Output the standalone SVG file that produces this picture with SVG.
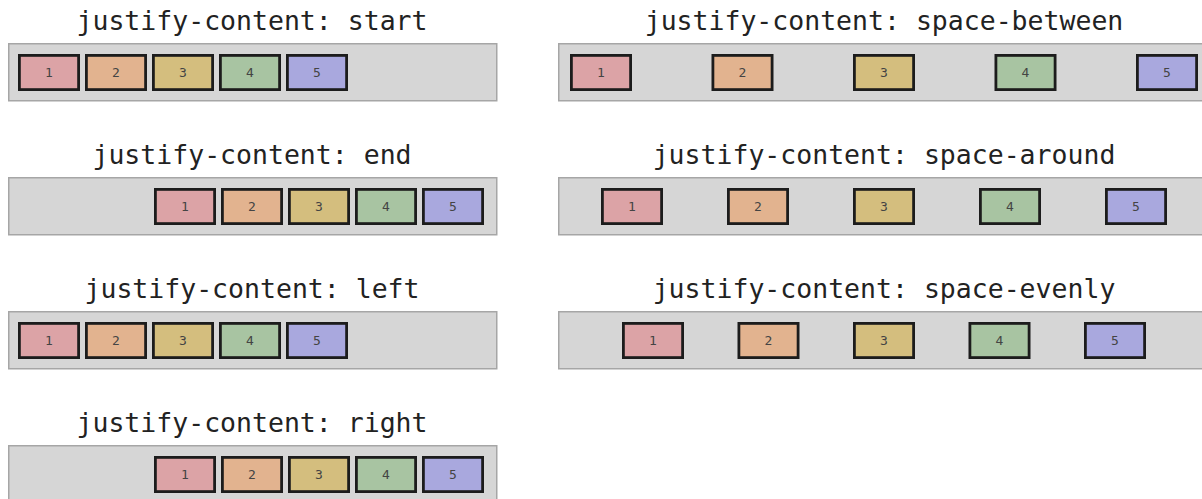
<svg xmlns="http://www.w3.org/2000/svg" width="1202" height="499" viewBox="0 0 1202 499">
<style>
.title{font-family:"DejaVu Sans Mono","Liberation Mono",monospace;font-size:26.5px;fill:#222;text-anchor:middle}
.cont{fill:#d6d6d6;stroke:#a6a6a6;stroke-width:1.5}
.box{stroke:#1c1c1c;stroke-width:2.8}
.num{font-family:"DejaVu Sans Mono","Liberation Mono",monospace;font-size:13px;fill:#444;text-anchor:middle}
.c1{fill:#dca3a6}.c2{fill:#e2b38f}.c3{fill:#d4be7e}.c4{fill:#a8c4a2}.c5{fill:#a9a8de}
</style>
<defs>
<g id="b1"><rect class="box c1" x="1.4" y="1.4" width="59.2" height="34.2"/><text class="num" x="31" y="23">1</text></g>
<g id="b2"><rect class="box c2" x="1.4" y="1.4" width="59.2" height="34.2"/><text class="num" x="31" y="23">2</text></g>
<g id="b3"><rect class="box c3" x="1.4" y="1.4" width="59.2" height="34.2"/><text class="num" x="31" y="23">3</text></g>
<g id="b4"><rect class="box c4" x="1.4" y="1.4" width="59.2" height="34.2"/><text class="num" x="31" y="23">4</text></g>
<g id="b5"><rect class="box c5" x="1.4" y="1.4" width="59.2" height="34.2"/><text class="num" x="31" y="23">5</text></g>
</defs>
<rect width="1202" height="499" fill="#fff"/>
<g id="connectors"/>

<g id="start">
<text class="title" x="252" y="29.5">justify-content: start</text>
<rect class="cont" x="8.75" y="43.75" width="488" height="57"/>
<g id="start-1"><use href="#b1" x="18" y="54"/></g>
<g id="start-2"><use href="#b2" x="85" y="54"/></g>
<g id="start-3"><use href="#b3" x="152" y="54"/></g>
<g id="start-4"><use href="#b4" x="219" y="54"/></g>
<g id="start-5"><use href="#b5" x="286" y="54"/></g>
</g>

<g id="end">
<text class="title" x="252" y="163.5">justify-content: end</text>
<rect class="cont" x="8.75" y="177.75" width="488" height="57"/>
<g id="end-1"><use href="#b1" x="154" y="188"/></g>
<g id="end-2"><use href="#b2" x="221" y="188"/></g>
<g id="end-3"><use href="#b3" x="288" y="188"/></g>
<g id="end-4"><use href="#b4" x="355" y="188"/></g>
<g id="end-5"><use href="#b5" x="422" y="188"/></g>
</g>

<g id="left">
<text class="title" x="252" y="297.5">justify-content: left</text>
<rect class="cont" x="8.75" y="311.75" width="488" height="57"/>
<g id="left-1"><use href="#b1" x="18" y="322"/></g>
<g id="left-2"><use href="#b2" x="85" y="322"/></g>
<g id="left-3"><use href="#b3" x="152" y="322"/></g>
<g id="left-4"><use href="#b4" x="219" y="322"/></g>
<g id="left-5"><use href="#b5" x="286" y="322"/></g>
</g>

<g id="right">
<text class="title" x="252" y="432">justify-content: right</text>
<rect class="cont" x="8.75" y="445.75" width="488" height="57"/>
<g id="right-1"><use href="#b1" x="154" y="456"/></g>
<g id="right-2"><use href="#b2" x="221" y="456"/></g>
<g id="right-3"><use href="#b3" x="288" y="456"/></g>
<g id="right-4"><use href="#b4" x="355" y="456"/></g>
<g id="right-5"><use href="#b5" x="422" y="456"/></g>
</g>

<g id="space-between">
<text class="title" x="884" y="29.5">justify-content: space-between</text>
<rect class="cont" x="558.75" y="43.75" width="652" height="57"/>
<g id="between-1"><use href="#b1" x="570" y="54"/></g>
<g id="between-2"><use href="#b2" x="711.5" y="54"/></g>
<g id="between-3"><use href="#b3" x="853" y="54"/></g>
<g id="between-4"><use href="#b4" x="994.5" y="54"/></g>
<g id="between-5"><use href="#b5" x="1136" y="54"/></g>
</g>

<g id="space-around">
<text class="title" x="884" y="163.5">justify-content: space-around</text>
<rect class="cont" x="558.75" y="177.75" width="652" height="57"/>
<g id="around-1"><use href="#b1" x="601" y="188"/></g>
<g id="around-2"><use href="#b2" x="727" y="188"/></g>
<g id="around-3"><use href="#b3" x="853" y="188"/></g>
<g id="around-4"><use href="#b4" x="979" y="188"/></g>
<g id="around-5"><use href="#b5" x="1105" y="188"/></g>
</g>

<g id="space-evenly">
<text class="title" x="884" y="297.5">justify-content: space-evenly</text>
<rect class="cont" x="558.75" y="311.75" width="652" height="57"/>
<g id="evenly-1"><use href="#b1" x="622" y="322"/></g>
<g id="evenly-2"><use href="#b2" x="737.5" y="322"/></g>
<g id="evenly-3"><use href="#b3" x="853" y="322"/></g>
<g id="evenly-4"><use href="#b4" x="968.5" y="322"/></g>
<g id="evenly-5"><use href="#b5" x="1084" y="322"/></g>
</g>
</svg>
